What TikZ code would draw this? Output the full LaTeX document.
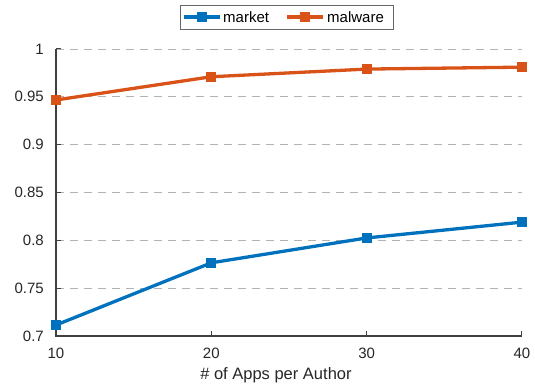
\documentclass[tikz,border=0pt]{standalone}
\usepackage{fontspec}
\setmainfont{Liberation Sans}
\usetikzlibrary{positioning,calc}
\definecolor{mktblue}{rgb}{0,0.447,0.741}
\definecolor{malorange}{rgb}{0.851,0.325,0.098}
\definecolor{axisgray}{rgb}{0.25,0.25,0.25}
\tikzset{
	curve/.style={line width=3.3pt},
	mark box/.style={fill, minimum size=10pt, inner sep=0pt},
	gridline/.style={draw=black!30, line width=0.9pt, dash pattern=on 8pt off 6pt},
	axisline/.style={draw=axisgray, line width=1.2pt},
	ticklabel/.style={text=black!85}
}

\begin{document}
\begin{tikzpicture}[x=1pt, y=1pt, font=\fontsize{15}{17}\selectfont]
	\useasboundingbox (0,0) rectangle (535,385);
	\begin{scope}[shift={(56,49)}, x=15.533pt, y=956.67pt]
	    % grid
	    \foreach \k in {1,...,6}
	        \draw[gridline] (0,\k*0.05) -- (30,\k*0.05);
	    % axes
	    \coordinate (o) at (0,0);
	    \coordinate (xend) at (30,0);
	    \coordinate (yend) at (0,0.3);
	    \draw[axisline] (yend) -- (o) -- (xend);
	    \foreach \v [count=\k from 0] in {0.7,0.75,0.8,0.85,0.9,0.95,1} {
	        \draw[axisline, line width=1pt] (0,\k*0.05) -- ++(5pt,0);
	        \node[ticklabel, anchor=east, xshift=-8.7pt] (yl\k) at (0,\k*0.05) {\v};
	    }
	    \foreach \i in {10,20,30,40} {
	        \draw[axisline, line width=1pt] (\i-10,0) -- ++(0,5pt);
	        \node[ticklabel, anchor=north, yshift=-8.7pt] (xl\i) at (\i-10,0) {\i};
	    }
	    \node[ticklabel, anchor=north, yshift=-28pt, font=\fontsize{16.5}{18}\selectfont] (xlab) at (14.16,0) {\# of Apps per Author};
	    % market
	    \coordinate (mk10) at (0,0.0115);
	    \coordinate (mk20) at (10,0.0765);
	    \coordinate (mk30) at (20,0.1025);
	    \coordinate (mk40) at (30,0.119);
	    \draw[curve, mktblue] (mk10) -- (mk20) -- (mk30) -- (mk40);
	    % malware
	    \coordinate (mw10) at (0,0.2467);
	    \coordinate (mw20) at (10,0.2710);
	    \coordinate (mw30) at (20,0.2790);
	    \coordinate (mw40) at (30,0.2810);
	    \draw[curve, malorange] (mw10) -- (mw20) -- (mw30) -- (mw40);
	    \foreach \i in {10,20,30,40} {
	        \node[mark box, mktblue] at (mk\i) {};
	        \node[mark box, malorange] at (mw\i) {};
	    }
	\end{scope}
	% legend
	\node[draw=black!60, line width=0.9pt, minimum width=213pt, minimum height=24pt] (legend) at (286.5,368) {};
	\coordinate (lm1) at (184,368);
	\coordinate (lm2) at (220,368);
	\draw[curve, mktblue] (lm1) -- (lm2);
	\node[mark box, mktblue] at ($(lm1)!0.5!(lm2)$) {};
	\node[anchor=west, inner sep=0pt] (mktlab) at (223,368) {market};
	\coordinate (lw1) at (287,368);
	\coordinate (lw2) at (323,368);
	\draw[curve, malorange] (lw1) -- (lw2);
	\node[mark box, malorange] at ($(lw1)!0.5!(lw2)$) {};
	\node[anchor=west, inner sep=0pt] (mallab) at (327,368) {malware};
\end{tikzpicture}
\end{document}
